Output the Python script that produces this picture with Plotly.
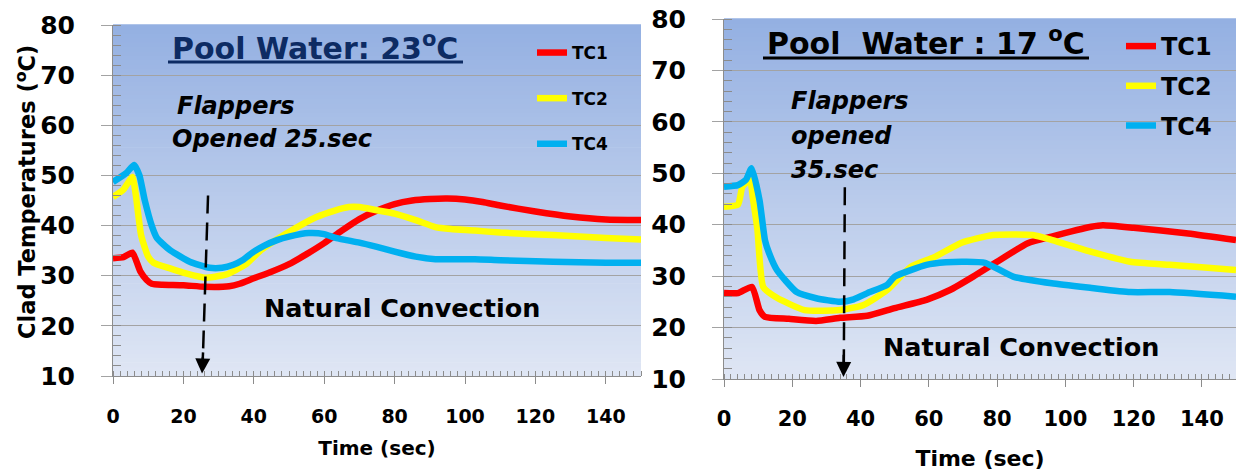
import plotly.graph_objects as go

# ---------------- data ----------------
# Left panel: Pool water 23 C
t_tc1_left = [0, 3, 5.5, 7.8, 9.5, 11, 14, 20, 26, 33, 36, 40, 45, 50, 55, 60, 65, 70, 75, 80, 85, 90, 95, 100, 105, 110, 120, 130, 140, 150]
tc1_left = [33.5, 33.7, 34.6, 30.8, 29.2, 28.4, 28.2, 28.1, 27.8, 27.9, 28.4, 29.5, 30.8, 32.3, 34.3, 36.5, 39.0, 41.3, 43.0, 44.3, 45.0, 45.3, 45.4, 45.2, 44.7, 44.0, 42.8, 41.8, 41.2, 41.1]

t_tc2_left = [0, 3, 5.5, 6.5, 8, 10, 11.5, 16, 21, 26, 32, 37.6, 42, 49, 57.8, 63, 67, 70, 74.6, 80, 86, 91.6, 96, 102.8, 110, 125, 140, 150]
tc2_left = [45.7, 47.2, 49.7, 46.0, 38.0, 33.8, 32.6, 31.5, 30.4, 29.6, 30.2, 32.2, 35.1, 38.3, 41.7, 43.0, 43.7, 43.7, 43.1, 42.4, 41.1, 39.7, 39.3, 39.0, 38.6, 38.1, 37.5, 37.2]

t_tc4_left = [0, 3.8, 6, 7.5, 9, 11, 12.5, 16.2, 21.8, 27.4, 31, 34.2, 37, 39.8, 43, 46.6, 50, 55.6, 60, 63.5, 70, 74.7, 80, 86, 91.6, 102.8, 110, 125, 140, 150]
tc4_left = [48.7, 50.5, 52.1, 50.0, 45.1, 40.0, 37.5, 35.1, 32.8, 31.6, 31.6, 32.2, 33.2, 34.7, 36.0, 37.1, 37.8, 38.5, 38.3, 37.5, 36.6, 35.8, 34.8, 33.8, 33.3, 33.3, 33.1, 32.8, 32.6, 32.6]

# Right panel: Pool water 17 C
t_tc1_right = [0, 4.1, 8.2, 10.4, 12, 19, 27, 34, 42, 50, 59.3, 66.2, 73, 80, 89, 96, 107.6, 111, 120, 136, 150]
tc1_right = [26.7, 26.7, 27.9, 23.4, 22.1, 21.7, 21.3, 21.9, 22.3, 23.8, 25.4, 27.3, 29.9, 32.8, 36.4, 37.7, 39.6, 39.9, 39.4, 38.3, 37.0]

t_tc2_right = [0, 4.1, 5.4, 7.6, 8.5, 9.8, 11.5, 15.5, 23.6, 34, 40.9, 47.8, 54.7, 61.6, 69.6, 78.8, 90.4, 96.2, 107.7, 119, 130.7, 150]
tc2_right = [43.5, 43.9, 47.4, 48.7, 45.0, 39.0, 27.9, 25.8, 23.4, 23.4, 24.4, 27.3, 31.8, 33.7, 36.5, 38.0, 38.0, 37.0, 34.7, 32.8, 32.2, 31.2]

t_tc4_right = [0, 4.1, 6.4, 8.1, 10.4, 12, 13.2, 15.5, 21.3, 27, 34, 38, 42, 47.8, 50, 59.3, 65, 70.8, 76.5, 84.7, 96, 107.7, 119, 130.6, 150]
tc4_right = [47.4, 47.7, 48.7, 51.0, 44.8, 37.0, 34.5, 31.2, 26.9, 25.7, 25.0, 25.5, 26.7, 28.3, 29.9, 32.2, 32.7, 32.8, 32.6, 29.9, 28.6, 27.7, 26.9, 26.9, 26.0]

series_names = ["TC1", "TC2", "TC4"]
x_ticks = [0, 20, 40, 60, 80, 100, 120, 140]
y_ticks = [10, 20, 30, 40, 50, 60, 70, 80]

# event annotations
flap_left_time = 25
flap_right_time = 35

# ---------------- styling ----------------
W, H = 1236, 471
FONT = "DejaVu Sans"
colors = ["#ff0000", "#ffff00", "#00b0f0"]


def px(x):
    return x / W


def py(y):
    return 1 - y / H


fig = go.Figure()

left = [(t_tc1_left, tc1_left), (t_tc2_left, tc2_left), (t_tc4_left, tc4_left)]
right = [(t_tc1_right, tc1_right), (t_tc2_right, tc2_right), (t_tc4_right, tc4_right)]

for i, (tt, vv) in enumerate(left):
    fig.add_trace(go.Scatter(x=tt, y=vv, mode="lines", name=series_names[i],
                             line=dict(color=colors[i], width=6.5, shape="spline", smoothing=0.5),
                             xaxis="x", yaxis="y", legend="legend", legendgroup="L" + str(i)))
for i, (tt, vv) in enumerate(right):
    fig.add_trace(go.Scatter(x=tt, y=vv, mode="lines", name=series_names[i],
                             line=dict(color=colors[i], width=6.5, shape="spline", smoothing=0.5),
                             xaxis="x2", yaxis="y2", legend="legend2", legendgroup="R" + str(i)))

axis_grey = "#8c8c8c"
grid_grey = "#a3a3a3"


def xaxis_common(dom, anchor, tick_size, tick_standoff, title_size, standoff):
    return dict(domain=dom, anchor=anchor, range=[0, 150], tickvals=x_ticks, automargin=False,
                showline=True, linecolor=axis_grey, linewidth=1, mirror=False,
                ticks="outside", ticklen=7, tickcolor=axis_grey, tickwidth=1,
                showgrid=False, zeroline=False,
                minor=dict(ticks="inside", dtick=2, ticklen=5, tickcolor=axis_grey, showgrid=False),
                tickfont=dict(family=FONT, size=tick_size, color="black", weight="bold"),
                ticklabelstandoff=tick_standoff,
                title=dict(text="Time (sec)", font=dict(family=FONT, size=title_size, color="black", weight="bold"),
                           standoff=standoff))


def yaxis_common(dom, anchor):
    return dict(domain=dom, anchor=anchor, range=[10, 80], tickvals=y_ticks, automargin=False,
                showline=True, linecolor=axis_grey, linewidth=1,
                ticks="outside", ticklen=11, tickcolor=grid_grey, tickwidth=1,
                showgrid=True, gridcolor=grid_grey, gridwidth=1, zeroline=False,
                minor=dict(ticks="inside", dtick=2, ticklen=8, tickcolor=axis_grey, showgrid=False),
                tickfont=dict(family=FONT, size=25, color="black", weight="bold"),
                ticklabelstandoff=21)


fig.update_layout(
    width=W, height=H, margin=dict(l=0, r=0, t=0, b=0),
    paper_bgcolor="white", plot_bgcolor="rgba(0,0,0,0)",
    xaxis=xaxis_common([px(113), px(641)], "y", 19, 16, 20, 15),
    yaxis=yaxis_common([py(376), py(25)], "x"),
    xaxis2=xaxis_common([px(724), 1.0], "y2", 21, 14, 22, 22),
    yaxis2=yaxis_common([py(379), py(19)], "x2"),
    legend=dict(x=px(532), y=py(35), xanchor="left", yanchor="top", bgcolor="rgba(0,0,0,0)",
                font=dict(family=FONT, size=17, color="black", weight="bold"),
                tracegroupgap=20.5, itemwidth=30),
    legend2=dict(x=px(1121), y=py(24), xanchor="left", yanchor="top", bgcolor="rgba(0,0,0,0)",
                 font=dict(family=FONT, size=24, color="black", weight="bold"),
                 tracegroupgap=5.5, itemwidth=30),
)

# gradient background bands
shapes = []
N = 80
top_c = (148, 176, 226)
bot_c = (223, 230, 244)
for xr, yr in [("x domain", "y domain"), ("x2 domain", "y2 domain")]:
    for k in range(N):
        f = (k + 0.5) / N  # 0 bottom .. 1 top
        c = tuple(int(round(bot_c[j] + (top_c[j] - bot_c[j]) * f)) for j in range(3))
        shapes.append(dict(type="rect", xref=xr, yref=yr, x0=0, x1=1, y0=k / N, y1=(k + 1) / N + 0.002,
                           fillcolor="rgb(%d,%d,%d)" % c, line=dict(width=0), layer="below"))

# dashed event lines
shapes.append(dict(type="line", xref="x", yref="y", x0=flap_left_time + 2, y0=46, x1=flap_left_time + 0.5, y1=13,
                   line=dict(color="black", width=2.5, dash="18px,9px")))
shapes.append(dict(type="line", xref="x2", yref="y2", x0=flap_right_time + 0.4, y0=47.3, x1=flap_right_time + 0.1, y1=13,
                   line=dict(color="black", width=2.5, dash="18px,9px")))

# title underlines
shapes.append(dict(type="line", xref="paper", yref="paper", x0=px(168), x1=px(463), y0=py(62), y1=py(62),
                   line=dict(color="#0d2b63", width=3)))
shapes.append(dict(type="line", xref="paper", yref="paper", x0=px(763), x1=px(1089), y0=py(58), y1=py(58),
                   line=dict(color="black", width=3)))
fig.update_layout(shapes=shapes)

ann = []
# arrow heads
ann.append(dict(x=flap_left_time + 0.3, y=10.5, xref="x", yref="y", ax=flap_left_time + 0.6, ay=15,
                axref="x", ayref="y", showarrow=True, arrowhead=2, arrowsize=1.2, arrowwidth=2.5,
                arrowcolor="black", text=""))
ann.append(dict(x=flap_right_time, y=10.4, xref="x2", yref="y2", ax=flap_right_time + 0.1, ay=15,
                axref="x2", ayref="y2", showarrow=True, arrowhead=2, arrowsize=1.2, arrowwidth=2.5,
                arrowcolor="black", text=""))

# y axis title (left panel)
ann.append(dict(x=px(25), y=py(192), xref="paper", yref="paper", xanchor="center", yanchor="middle",
                showarrow=False, textangle=-90, text="Clad Temperatures (<sup>o</sup>C)",
                font=dict(family=FONT, size=22.5, color="black", weight="bold")))

# panel titles
ann.append(dict(x=px(315), y=py(47), xref="paper", yref="paper", xanchor="center", yanchor="middle",
                showarrow=False, text="Pool Water: 23<sup>o</sup>C",
                font=dict(family=FONT, size=30, color="#0d2b63", weight="bold")))
ann.append(dict(x=px(926), y=py(42), xref="paper", yref="paper", xanchor="center", yanchor="middle",
                showarrow=False, text="Pool\u00a0 Water : 17 <sup>o</sup>C",
                font=dict(family=FONT, size=30, color="black", weight="bold")))

# flapper notes
note_font = dict(family=FONT, size=24, color="black", weight="bold", style="italic")
for txt, x, y in [("Flappers", 175, 106), ("Opened 25.sec", 170, 139),
                  ("Flappers", 789, 101), ("opened", 789, 136), ("35.sec", 789, 170)]:
    ann.append(dict(x=px(x), y=py(y), xref="paper", yref="paper", xanchor="left", yanchor="middle",
                    showarrow=False, text=txt, font=note_font))

# natural convection labels
ann.append(dict(x=px(402), y=py(308), xref="paper", yref="paper", xanchor="center", yanchor="middle",
                showarrow=False, text="Natural Convection",
                font=dict(family=FONT, size=25.5, color="black", weight="bold")))
ann.append(dict(x=px(1021), y=py(347), xref="paper", yref="paper", xanchor="center", yanchor="middle",
                showarrow=False, text="Natural Convection",
                font=dict(family=FONT, size=25.5, color="black", weight="bold")))
fig.update_layout(annotations=ann)

fig.write_html("out.html")
